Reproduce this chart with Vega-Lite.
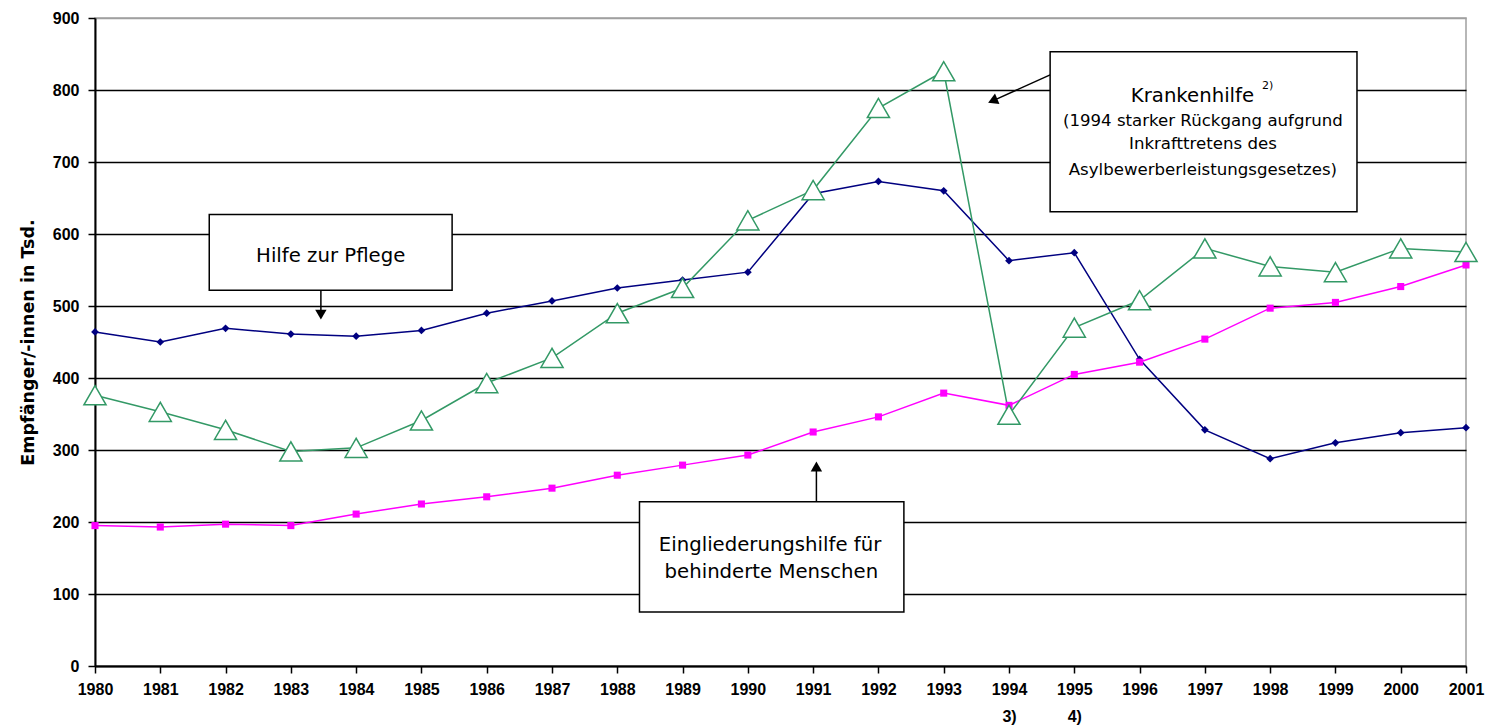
{
  "$schema": "https://vega.github.io/schema/vega-lite/v6.json",
  "width": 1371,
  "height": 648,
  "autosize": {"type": "none"},
  "padding": {"left": 95, "top": 18, "right": 21, "bottom": 60},
  "background": "white",
  "config": {
    "view": {"stroke": "#a0a0a0", "strokeWidth": 1.5},
    "font": "DejaVu Sans"
  },
  "datasets": {
    "series": [
      {"year": 1980, "series": "Hilfe zur Pflege", "value": 464},
      {"year": 1981, "series": "Hilfe zur Pflege", "value": 450},
      {"year": 1982, "series": "Hilfe zur Pflege", "value": 469},
      {"year": 1983, "series": "Hilfe zur Pflege", "value": 461},
      {"year": 1984, "series": "Hilfe zur Pflege", "value": 458},
      {"year": 1985, "series": "Hilfe zur Pflege", "value": 466},
      {"year": 1986, "series": "Hilfe zur Pflege", "value": 490},
      {"year": 1987, "series": "Hilfe zur Pflege", "value": 507},
      {"year": 1988, "series": "Hilfe zur Pflege", "value": 525},
      {"year": 1989, "series": "Hilfe zur Pflege", "value": 536},
      {"year": 1990, "series": "Hilfe zur Pflege", "value": 547},
      {"year": 1991, "series": "Hilfe zur Pflege", "value": 656},
      {"year": 1992, "series": "Hilfe zur Pflege", "value": 673},
      {"year": 1993, "series": "Hilfe zur Pflege", "value": 660},
      {"year": 1994, "series": "Hilfe zur Pflege", "value": 563},
      {"year": 1995, "series": "Hilfe zur Pflege", "value": 574},
      {"year": 1996, "series": "Hilfe zur Pflege", "value": 426},
      {"year": 1997, "series": "Hilfe zur Pflege", "value": 328},
      {"year": 1998, "series": "Hilfe zur Pflege", "value": 288},
      {"year": 1999, "series": "Hilfe zur Pflege", "value": 310},
      {"year": 2000, "series": "Hilfe zur Pflege", "value": 324},
      {"year": 2001, "series": "Hilfe zur Pflege", "value": 331},
      {"year": 1980, "series": "Eingliederungshilfe", "value": 195},
      {"year": 1981, "series": "Eingliederungshilfe", "value": 193},
      {"year": 1982, "series": "Eingliederungshilfe", "value": 197},
      {"year": 1983, "series": "Eingliederungshilfe", "value": 195},
      {"year": 1984, "series": "Eingliederungshilfe", "value": 211},
      {"year": 1985, "series": "Eingliederungshilfe", "value": 225},
      {"year": 1986, "series": "Eingliederungshilfe", "value": 235},
      {"year": 1987, "series": "Eingliederungshilfe", "value": 247},
      {"year": 1988, "series": "Eingliederungshilfe", "value": 265},
      {"year": 1989, "series": "Eingliederungshilfe", "value": 279},
      {"year": 1990, "series": "Eingliederungshilfe", "value": 293},
      {"year": 1991, "series": "Eingliederungshilfe", "value": 325},
      {"year": 1992, "series": "Eingliederungshilfe", "value": 346},
      {"year": 1993, "series": "Eingliederungshilfe", "value": 379},
      {"year": 1994, "series": "Eingliederungshilfe", "value": 362},
      {"year": 1995, "series": "Eingliederungshilfe", "value": 405},
      {"year": 1996, "series": "Eingliederungshilfe", "value": 422},
      {"year": 1997, "series": "Eingliederungshilfe", "value": 454},
      {"year": 1998, "series": "Eingliederungshilfe", "value": 497},
      {"year": 1999, "series": "Eingliederungshilfe", "value": 505},
      {"year": 2000, "series": "Eingliederungshilfe", "value": 527},
      {"year": 2001, "series": "Eingliederungshilfe", "value": 557},
      {"year": 1980, "series": "Krankenhilfe", "value": 376},
      {"year": 1981, "series": "Krankenhilfe", "value": 353},
      {"year": 1982, "series": "Krankenhilfe", "value": 328},
      {"year": 1983, "series": "Krankenhilfe", "value": 298},
      {"year": 1984, "series": "Krankenhilfe", "value": 303},
      {"year": 1985, "series": "Krankenhilfe", "value": 341},
      {"year": 1986, "series": "Krankenhilfe", "value": 393},
      {"year": 1987, "series": "Krankenhilfe", "value": 428},
      {"year": 1988, "series": "Krankenhilfe", "value": 490},
      {"year": 1989, "series": "Krankenhilfe", "value": 525},
      {"year": 1990, "series": "Krankenhilfe", "value": 619},
      {"year": 1991, "series": "Krankenhilfe", "value": 661},
      {"year": 1992, "series": "Krankenhilfe", "value": 775},
      {"year": 1993, "series": "Krankenhilfe", "value": 826},
      {"year": 1994, "series": "Krankenhilfe", "value": 349},
      {"year": 1995, "series": "Krankenhilfe", "value": 470},
      {"year": 1996, "series": "Krankenhilfe", "value": 508},
      {"year": 1997, "series": "Krankenhilfe", "value": 580},
      {"year": 1998, "series": "Krankenhilfe", "value": 555},
      {"year": 1999, "series": "Krankenhilfe", "value": 547},
      {"year": 2000, "series": "Krankenhilfe", "value": 580},
      {"year": 2001, "series": "Krankenhilfe", "value": 575}
    ],
    "boxes": [
      {"name": "Hilfe zur Pflege", "x1": 1981.75, "x2": 1985.47, "y1": 627, "y2": 522},
      {"name": "Krankenhilfe", "x1": 1994.63, "x2": 1999.33, "y1": 853, "y2": 631},
      {"name": "Eingliederungshilfe", "x1": 1988.34, "x2": 1992.39, "y1": 228, "y2": 75}
    ],
    "arrows": [
      {"name": "Hilfe zur Pflege", "x1": 1983.46, "y1": 522, "x2": 1983.46, "y2": 490},
      {"name": "Krankenhilfe", "x1": 1994.63, "y1": 821, "x2": 1993.8, "y2": 787},
      {"name": "Eingliederungshilfe", "x1": 1991.05, "y1": 228, "x2": 1991.05, "y2": 275}
    ],
    "heads": [
      {"name": "Hilfe zur Pflege", "x": 1983.46, "y": 488},
      {"name": "Krankenhilfe", "x": 1993.75, "y": 785},
      {"name": "Eingliederungshilfe", "x": 1991.05, "y": 277}
    ],
    "notes": [
      {"kind": "big", "x": 1983.61, "y": 570, "text": "Hilfe zur Pflege"},
      {"kind": "big", "x": 1996.81, "y": 792, "text": "Krankenhilfe"},
      {"kind": "sup", "x": 1997.96, "y": 805, "text": "2)"},
      {"kind": "small", "x": 1996.97, "y": 757, "text": "(1994 starker Rückgang aufgrund"},
      {"kind": "small", "x": 1996.97, "y": 725, "text": "Inkrafttretens des"},
      {"kind": "small", "x": 1996.97, "y": 689, "text": "Asylbewerberleistungsgesetzes)"},
      {"kind": "big", "x": 1990.34, "y": 168, "text": "Eingliederungshilfe für"},
      {"kind": "big", "x": 1990.36, "y": 131, "text": "behinderte Menschen"}
    ]
  },
  "layer": [
    {
      "data": {"name": "series"},
      "mark": {"type": "line", "strokeWidth": 1.5},
      "encoding": {
        "x": {
          "field": "year", "type": "quantitative",
          "scale": {"domain": [1980, 2001], "nice": false, "zero": false},
          "axis": {
            "title": null,
            "values": [1980,1981,1982,1983,1984,1985,1986,1987,1988,1989,1990,1991,1992,1993,1994,1995,1996,1997,1998,1999,2000,2001],
            "format": "d",
            "labelExpr": "datum.value == 1994 ? ['1994', '3)'] : datum.value == 1995 ? ['1995', '4)'] : datum.label",
            "labelLineHeight": 27,
            "labelFont": "Liberation Sans",
            "labelFontWeight": "bold",
            "labelFontSize": 16,
            "labelColor": "#000",
            "labelPadding": 8,
            "labelFlush": false,
            "labelOverlap": false,
            "tickSize": 7,
            "tickColor": "#000",
            "tickWidth": 1.5,
            "domainColor": "#000",
            "domainWidth": 2,
            "grid": false
          }
        },
        "y": {
          "field": "value", "type": "quantitative",
          "scale": {"domain": [0, 900], "nice": false},
          "axis": {
            "title": "Empfänger/-innen in Tsd.",
            "titleFont": "DejaVu Sans",
            "titleFontWeight": "bold",
            "titleFontSize": 17.5,
            "titleColor": "#000",
            "titlePadding": 15,
            "values": [0,100,200,300,400,500,600,700,800,900],
            "labelFont": "Liberation Sans",
            "labelFontWeight": "bold",
            "labelFontSize": 16,
            "labelColor": "#000",
            "labelPadding": 9,
            "tickSize": 7,
            "tickColor": "#000",
            "tickWidth": 1.5,
            "domainColor": "#000",
            "domainWidth": 2,
            "grid": true,
            "gridColor": {"condition": {"test": "datum.value == 900", "value": "#a0a0a0"}, "value": "#000"},
            "gridWidth": 1.6,
            "gridOpacity": 1
          }
        },
        "color": {
          "field": "series", "type": "nominal",
          "scale": {"domain": ["Hilfe zur Pflege", "Eingliederungshilfe", "Krankenhilfe"], "range": ["#000080", "#ff00ff", "#339966"]},
          "legend": null
        }
      }
    },
    {
      "data": {"name": "series"},
      "transform": [{"filter": "datum.series == 'Hilfe zur Pflege'"}],
      "mark": {"type": "point", "shape": "diamond", "filled": true, "size": 60, "color": "#000080", "opacity": 1},
      "encoding": {
        "x": {"field": "year", "type": "quantitative"},
        "y": {"field": "value", "type": "quantitative"}
      }
    },
    {
      "data": {"name": "series"},
      "transform": [{"filter": "datum.series == 'Eingliederungshilfe'"}],
      "mark": {"type": "point", "shape": "square", "filled": true, "size": 50, "color": "#ff00ff", "opacity": 1},
      "encoding": {
        "x": {"field": "year", "type": "quantitative"},
        "y": {"field": "value", "type": "quantitative"}
      }
    },
    {
      "data": {"name": "series"},
      "transform": [{"filter": "datum.series == 'Krankenhilfe'"}],
      "mark": {"type": "point", "shape": "triangle-up", "filled": false, "fill": "white", "fillOpacity": 1, "size": 490, "stroke": "#339966", "strokeWidth": 1.5, "opacity": 1},
      "encoding": {
        "x": {"field": "year", "type": "quantitative"},
        "y": {"field": "value", "type": "quantitative"}
      }
    },
    {
      "data": {"name": "arrows"},
      "mark": {"type": "rule", "color": "#000", "strokeWidth": 1.5},
      "encoding": {
        "x": {"field": "x1", "type": "quantitative"},
        "x2": {"field": "x2"},
        "y": {"field": "y1", "type": "quantitative"},
        "y2": {"field": "y2"}
      }
    },
    {
      "data": {"name": "heads"},
      "transform": [{"filter": "datum.name == 'Hilfe zur Pflege'"}],
      "mark": {"type": "point", "shape": "triangle-down", "filled": true, "color": "#000", "size": 130, "opacity": 1},
      "encoding": {
        "x": {"field": "x", "type": "quantitative"},
        "y": {"field": "y", "type": "quantitative"}
      }
    },
    {
      "data": {"name": "heads"},
      "transform": [{"filter": "datum.name == 'Eingliederungshilfe'"}],
      "mark": {"type": "point", "shape": "triangle-up", "filled": true, "color": "#000", "size": 130, "opacity": 1},
      "encoding": {
        "x": {"field": "x", "type": "quantitative"},
        "y": {"field": "y", "type": "quantitative"}
      }
    },
    {
      "data": {"name": "heads"},
      "transform": [{"filter": "datum.name == 'Krankenhilfe'"}],
      "mark": {"type": "point", "shape": "triangle-up", "angle": 247, "filled": true, "color": "#000", "size": 130, "opacity": 1},
      "encoding": {
        "x": {"field": "x", "type": "quantitative"},
        "y": {"field": "y", "type": "quantitative"}
      }
    },
    {
      "data": {"name": "boxes"},
      "mark": {"type": "rect", "fill": "white", "stroke": "#000", "strokeWidth": 1.5},
      "encoding": {
        "x": {"field": "x1", "type": "quantitative"},
        "x2": {"field": "x2"},
        "y": {"field": "y1", "type": "quantitative"},
        "y2": {"field": "y2"}
      }
    },
    {
      "data": {"name": "notes"},
      "transform": [{"filter": "datum.kind == 'big'"}],
      "mark": {"type": "text", "font": "DejaVu Sans", "fontSize": 19.7, "color": "#000", "align": "center", "baseline": "middle"},
      "encoding": {
        "x": {"field": "x", "type": "quantitative"},
        "y": {"field": "y", "type": "quantitative"},
        "text": {"field": "text"}
      }
    },
    {
      "data": {"name": "notes"},
      "transform": [{"filter": "datum.kind == 'small'"}],
      "mark": {"type": "text", "font": "DejaVu Sans", "fontSize": 16.6, "color": "#000", "align": "center", "baseline": "middle"},
      "encoding": {
        "x": {"field": "x", "type": "quantitative"},
        "y": {"field": "y", "type": "quantitative"},
        "text": {"field": "text"}
      }
    },
    {
      "data": {"name": "notes"},
      "transform": [{"filter": "datum.kind == 'sup'"}],
      "mark": {"type": "text", "font": "DejaVu Sans", "fontSize": 11, "color": "#000", "align": "center", "baseline": "middle"},
      "encoding": {
        "x": {"field": "x", "type": "quantitative"},
        "y": {"field": "y", "type": "quantitative"},
        "text": {"field": "text"}
      }
    }
  ]
}
